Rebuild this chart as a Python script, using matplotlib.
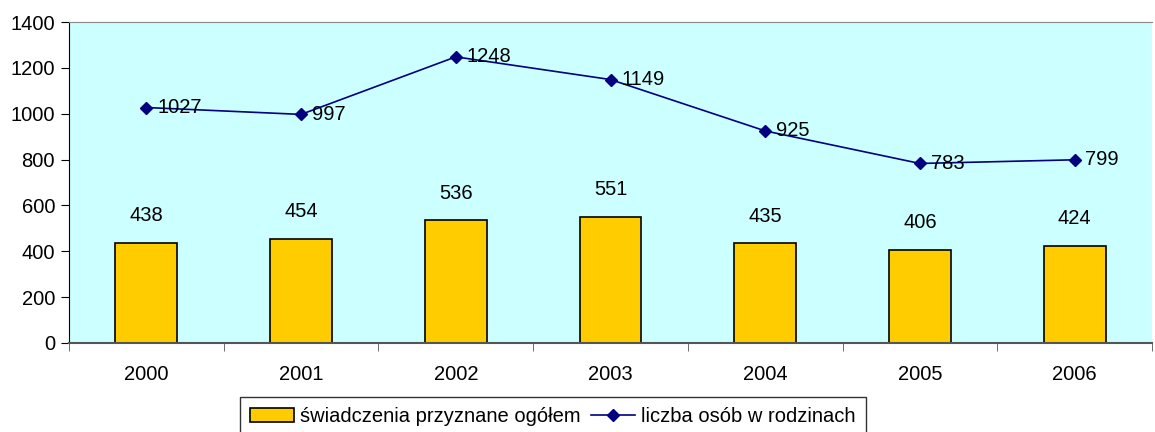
import numpy as np
import matplotlib.pyplot as plt

plt.rcParams['font.family'] = ['Liberation Sans', 'DejaVu Sans']

years = ['2000', '2001', '2002', '2003', '2004', '2005', '2006']
benefits = [438, 454, 536, 551, 435, 406, 424]
persons = [1027, 997, 1248, 1149, 925, 783, 799]

fig = plt.figure(figsize=(11.55, 4.32), dpi=100)
ax = fig.add_axes([69 / 1155, 1 - 343 / 432, 1083 / 1155, 321 / 432])
ax.set_facecolor('#CCFFFF')

x = np.arange(len(years))
bars = ax.bar(x, benefits, width=0.4, color='#FFCC00', edgecolor='black',
              linewidth=1.2, label='świadczenia przyznane ogółem', zorder=2)
line, = ax.plot(x, persons, color='#000080', marker='D', markersize=6,
                linewidth=1.2, label='liczba osób w rodzinach', zorder=3)

for xi, v in zip(x, benefits):
    ax.text(xi, v + 118, str(v), ha='center', va='center', fontsize=14.5)
for xi, v in zip(x, persons):
    ax.text(xi + 0.07, v, str(v), ha='left', va='center', fontsize=14.5)

ax.set_xlim(-0.5, len(years) - 0.5)
ax.set_ylim(0, 1400)
ax.set_yticks(range(0, 1401, 200))
ax.set_xticks(x)
ax.set_xticklabels(years)
ax.set_xticks(np.arange(-0.5, len(years), 1), minor=True)
ax.tick_params(axis='x', which='major', length=0, pad=16, labelsize=14.5)
ax.tick_params(axis='x', which='minor', length=6, direction='out', color='#555555')
ax.tick_params(axis='y', length=6, direction='out', labelsize=14.5, pad=4)

ax.spines['top'].set_color('#888888')
ax.spines['right'].set_visible(False)
ax.spines['bottom'].set_color('#555555')
ax.spines['bottom'].set_linewidth(1.5)
ax.spines['left'].set_color('black')

leg = fig.legend(handles=[bars, line], loc='upper left',
                 bbox_to_anchor=(240 / 1155, 1 - 397 / 432), ncol=2,
                 frameon=True, fancybox=False, edgecolor='black', fontsize=14.5,
                 handlelength=2.2, handleheight=0.7, columnspacing=0.5,
                 handletextpad=0.3, borderpad=0.5, borderaxespad=0)
leg.get_frame().set_linewidth(1.0)

plt.savefig('out.png', dpi=100)
